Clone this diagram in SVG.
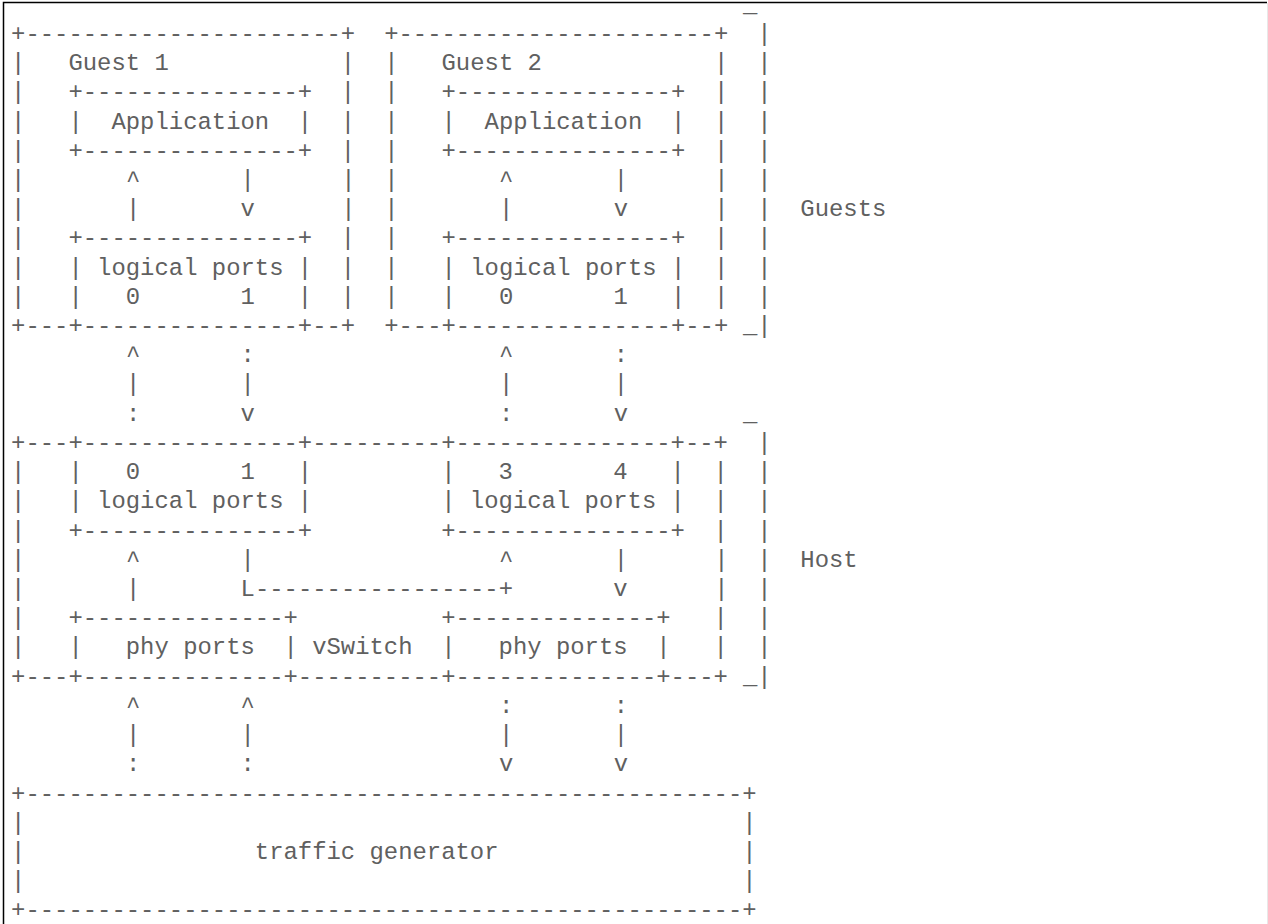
<svg xmlns="http://www.w3.org/2000/svg" width="1268" height="924" viewBox="0 0 1268 924" xml:space="preserve">
<style>
text { font-family: "Liberation Mono", "DejaVu Sans Mono", monospace; font-size: 23.9px; fill: #606060; white-space: pre; }
.frame { stroke: #000; stroke-width: 1.5; fill: none; }
.frame2 { stroke: #e8e8e8; stroke-width: 1; fill: none; }
</style>
<rect width="1268" height="924" fill="#fff"/>
<path class="frame" d="M3.5,924 V2.5 H1267"/>
<path class="frame2" d="M1267.5,3 V924"/>

<g id="guest1">
<text x="11.1" y="0"><tspan x="11.1" y="40.8">+----------------------+</tspan><tspan x="11.1" y="70.0">|   Guest 1            |</tspan><tspan x="11.1" y="99.2">|   +---------------+  |</tspan><tspan x="11.1" y="128.5">|   |  Application  |  |</tspan><tspan x="11.1" y="157.7">|   +---------------+  |</tspan></text>
<text x="11.1" y="0"><tspan x="11.1" y="186.9">|</tspan><tspan x="11.1" y="216.1">|</tspan></text>
<text x="341.15" y="0"><tspan x="341.15" y="186.9">|</tspan><tspan x="341.15" y="216.1">|</tspan></text>
<text x="11.1" y="0"><tspan x="11.1" y="245.3">|   +---------------+  |</tspan><tspan x="11.1" y="274.6">|   | logical ports |  |</tspan><tspan x="11.1" y="303.8">|   |   0       1   |  |</tspan><tspan x="11.1" y="333.0">+---+---------------+--+</tspan></text>
</g>

<g id="guest2">
<text x="384.2" y="0"><tspan x="384.2" y="40.8">+----------------------+</tspan><tspan x="384.2" y="70.0">|   Guest 2            |</tspan><tspan x="384.2" y="99.2">|   +---------------+  |</tspan><tspan x="384.2" y="128.5">|   |  Application  |  |</tspan><tspan x="384.2" y="157.7">|   +---------------+  |</tspan></text>
<text x="384.2" y="0"><tspan x="384.2" y="186.9">|</tspan><tspan x="384.2" y="216.1">|</tspan></text>
<text x="714.25" y="0"><tspan x="714.25" y="186.9">|</tspan><tspan x="714.25" y="216.1">|</tspan></text>
<text x="384.2" y="0"><tspan x="384.2" y="245.3">|   +---------------+  |</tspan><tspan x="384.2" y="274.6">|   | logical ports |  |</tspan><tspan x="384.2" y="303.8">|   |   0       1   |  |</tspan><tspan x="384.2" y="333.0">+---+---------------+--+</tspan></text>
</g>

<g id="guests-label">
<text x="742.95" y="12">_</text>
<text x="757.3" y="0"><tspan x="757.3" y="40.8">|</tspan><tspan x="757.3" y="70.0">|</tspan><tspan x="757.3" y="99.2">|</tspan><tspan x="757.3" y="128.5">|</tspan><tspan x="757.3" y="157.7">|</tspan><tspan x="757.3" y="186.9">|</tspan><tspan x="757.3" y="216.1">|</tspan><tspan x="757.3" y="245.3">|</tspan><tspan x="757.3" y="274.6">|</tspan><tspan x="757.3" y="303.8">|</tspan></text>
<text x="742.95" y="333.0">_|</text>
<text x="800.35" y="216.1">Guests</text>
</g>

<g id="host">
<text x="11.1" y="0"><tspan x="11.1" y="449.9">+---+---------------+---------+---------------+--+</tspan><tspan x="11.1" y="479.1">|   |   0       1   |         |   3       4   |  |</tspan><tspan x="11.1" y="508.3">|   | logical ports |         | logical ports |  |</tspan><tspan x="11.1" y="537.5">|   +---------------+         +---------------+  |</tspan></text>
<text x="11.1" y="0"><tspan x="11.1" y="566.8">|</tspan><tspan x="11.1" y="596.0">|</tspan></text>
<text x="714.25" y="0"><tspan x="714.25" y="566.8">|</tspan><tspan x="714.25" y="596.0">|</tspan></text>
<text x="11.1" y="0"><tspan x="11.1" y="625.2">|   +--------------+          +--------------+   |</tspan><tspan x="11.1" y="654.4">|   |   phy ports  | vSwitch  |   phy ports  |   |</tspan><tspan x="11.1" y="683.6">+---+--------------+----------+--------------+---+</tspan></text>
</g>

<g id="host-label">
<text x="742.95" y="420.7">_</text>
<text x="757.3" y="0"><tspan x="757.3" y="449.9">|</tspan><tspan x="757.3" y="479.1">|</tspan><tspan x="757.3" y="508.3">|</tspan><tspan x="757.3" y="537.5">|</tspan><tspan x="757.3" y="566.8">|</tspan><tspan x="757.3" y="596.0">|</tspan><tspan x="757.3" y="625.2">|</tspan><tspan x="757.3" y="654.4">|</tspan></text>
<text x="742.95" y="683.6">_|</text>
<text x="800.35" y="566.8">Host</text>
</g>

<g id="traffic-generator">
<text x="11.1" y="0"><tspan x="11.1" y="800.5">+--------------------------------------------------+</tspan><tspan x="11.1" y="829.7">|                                                  |</tspan><tspan x="11.1" y="859.0">|                traffic generator                 |</tspan><tspan x="11.1" y="888.2">|                                                  |</tspan><tspan x="11.1" y="917.4">+--------------------------------------------------+</tspan></text>
</g>

<g id="connectors">
<text x="125.9" y="0"><tspan x="125.9" y="186.9">^       |</tspan><tspan x="125.9" y="216.1">|       v</tspan></text>
<text x="499.0" y="0"><tspan x="499.0" y="186.9">^       |</tspan><tspan x="499.0" y="216.1">|       v</tspan></text>
<text x="125.9" y="0"><tspan x="125.9" y="362.2">^       :</tspan><tspan x="125.9" y="391.4">|       |</tspan><tspan x="125.9" y="420.7">:       v</tspan></text>
<text x="499.0" y="0"><tspan x="499.0" y="362.2">^       :</tspan><tspan x="499.0" y="391.4">|       |</tspan><tspan x="499.0" y="420.7">:       v</tspan></text>
<text x="125.9" y="566.8">^       |</text>
<text x="499.0" y="566.8">^       |</text>
<text x="125.9" y="596.0">|       L-----------------+       v</text>
<text x="125.9" y="0"><tspan x="125.9" y="712.9">^       ^</tspan><tspan x="125.9" y="742.1">|       |</tspan><tspan x="125.9" y="771.3">:       :</tspan></text>
<text x="499.0" y="0"><tspan x="499.0" y="712.9">:       :</tspan><tspan x="499.0" y="742.1">|       |</tspan><tspan x="499.0" y="771.3">v       v</tspan></text>
</g>
</svg>
